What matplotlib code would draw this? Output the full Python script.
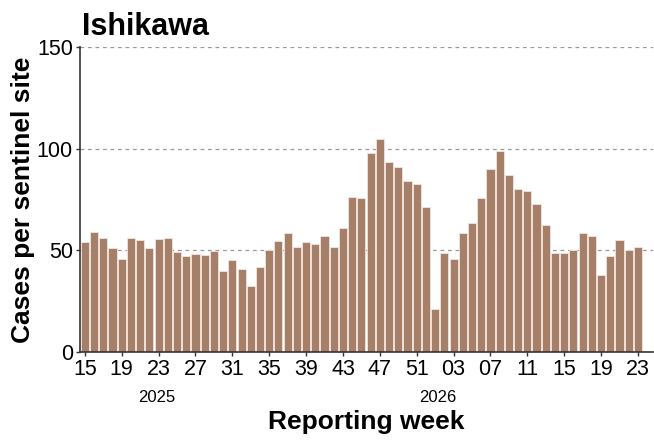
import matplotlib
matplotlib.use("Agg")
import matplotlib.pyplot as plt
import matplotlib.transforms as mtransforms

plt.rcParams['font.family'] = ['Liberation Sans', 'DejaVu Sans']

weeks_2025 = list(range(15, 53))
weeks_2026 = list(range(1, 24))
values_2025 = [54, 59, 56.2, 51.2, 45.6, 56, 55, 51, 55.8, 55.9, 49.4, 47, 48.2, 47.5, 49.5,
               39.7, 45.1, 40.8, 32.5, 42, 50, 54.4, 58.4, 51.5, 54.1, 53, 57.1, 51.6, 60.8,
               76.4, 75.7, 97.7, 104.6, 93.3, 91, 84.1, 82.8, 71.4]
values_2026 = [21, 48.8, 45.5, 58.4, 63.6, 75.8, 90, 98.9, 87.2, 80.4, 79.2, 72.8, 62.5, 48.5,
               48.9, 50, 58.5, 57.2, 37.8, 47, 55.2, 50.3, 51.5]

labels = [f"{w:02d}" for w in weeks_2025] + [f"{w:02d}" for w in weeks_2026]
values = values_2025 + values_2026
x = list(range(len(values)))

fig = plt.figure(figsize=(6.54, 4.41), dpi=100)
ax = fig.add_axes([0.122, 0.202, 0.876, 0.691])

ax.bar(x, values, width=0.88, color="#A67F68", edgecolor="#F3E6DF", linewidth=0.6, zorder=2)

ax.set_ylim(0, 150)
ax.set_yticks([0, 50, 100, 150])
ax.set_xlim(-0.55, len(values) + 0.6)
ax.set_xticks(x[::4])
ax.set_xticklabels(labels[::4])
ax.tick_params(axis="both", labelsize=15.5, length=3, width=1, color="#333333", pad=2)
ax.yaxis.grid(True, linestyle=(0, (3, 3)), color="#999999", linewidth=0.9, zorder=0)
ax.set_axisbelow(True)
for s in ["top", "right"]:
    ax.spines[s].set_visible(False)
for s in ["left", "bottom"]:
    ax.spines[s].set_color("#333333")
    ax.spines[s].set_linewidth(1.2)

ax.set_title("Ishikawa", loc="left", fontsize=22, fontweight="bold", pad=9, x=0.003)
ax.set_ylabel("Cases per sentinel site", fontsize=19, fontweight="bold", labelpad=1)
ax.set_xlabel("Reporting week", fontsize=19, fontweight="bold", labelpad=22)

trans = mtransforms.blended_transform_factory(ax.transData, ax.transAxes)
ax.text(7.8, -0.151, "2025", transform=trans, ha="center", va="center", fontsize=12)
ax.text(38.3, -0.151, "2026", transform=trans, ha="center", va="center", fontsize=12)

fig.savefig("out.png", dpi=100)
